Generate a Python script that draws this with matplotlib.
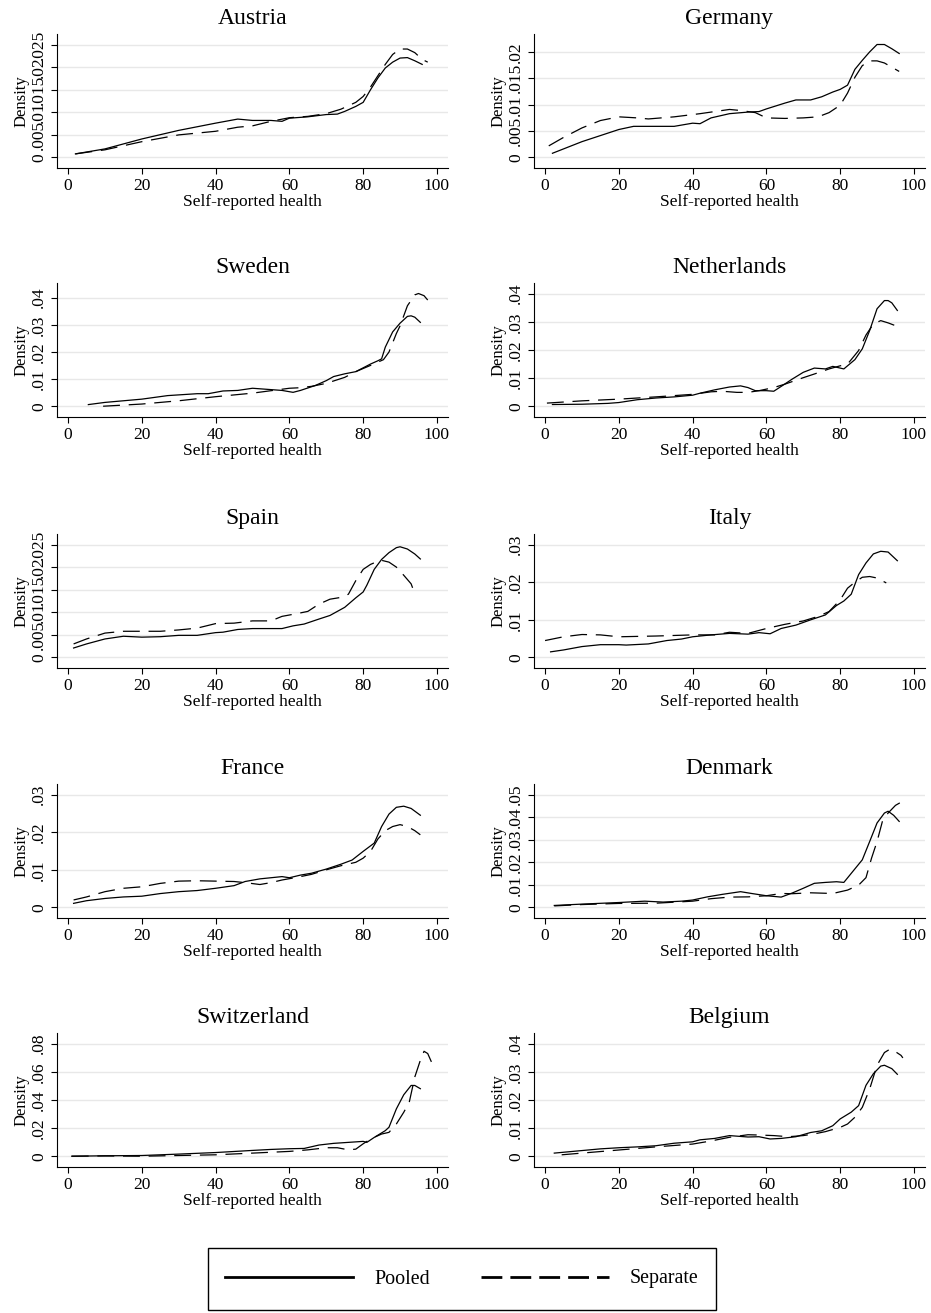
import matplotlib
matplotlib.use('Agg')
import matplotlib.pyplot as plt
from matplotlib.lines import Line2D
from matplotlib.patches import Rectangle

plt.rcParams['font.family'] = ['Liberation Serif', 'DejaVu Serif']

countries = ['Austria', 'Germany', 'Sweden', 'Netherlands', 'Spain',
             'Italy', 'France', 'Denmark', 'Switzerland', 'Belgium']

# kernel density of self-reported health: pooled vs separate estimation
austria_pooled_x = [2, 10, 20, 30, 40, 46, 50, 55, 58, 60, 65, 70, 73, 75, 78, 80, 82, 84, 86, 88, 90, 92, 94, 96]
austria_pooled_y = [.0008, .0019, .0041, .006, .0076, .0085, .0082, .0082, .008, .0087, .009, .0095, .0096, .0102, .0113, .0122, .015, .0176, .0198, .0211, .022, .0221, .0214, .0206]
austria_sep_x = [2, 10, 20, 30, 40, 46, 50, 55, 60, 65, 70, 74, 78, 80, 82, 84, 86, 88, 90, 92, 94, 96, 97.5]
austria_sep_y = [.0008, .0017, .0035, .005, .0058, .0067, .007, .008, .0088, .0091, .0097, .0107, .0122, .0135, .0156, .0181, .0206, .0228, .024, .024, .0232, .0217, .0211]

germany_pooled_x = [2, 10, 20, 24, 30, 35, 40, 42, 45, 50, 55, 58, 60, 65, 68, 72, 75, 78, 80, 82, 84, 86, 88, 90, 92, 94, 96]
germany_pooled_y = [.0008, .003, .0053, .0059, .0059, .0059, .0065, .0064, .0075, .0083, .0086, .0087, .0092, .0103, .0109, .0109, .0115, .0124, .0129, .0137, .0167, .0184, .02, .0214, .0214, .0206, .0197]
germany_sep_x = [1, 5, 10, 15, 20, 25, 28, 35, 42, 50, 53, 57, 60, 65, 70, 74, 77, 80, 82, 84, 86, 88, 90, 92, 94, 96]
germany_sep_y = [.0022, .0038, .0056, .007, .0077, .0075, .0073, .0077, .0083, .0091, .0089, .0085, .0075, .0074, .0075, .0077, .0085, .0099, .0122, .0152, .0174, .0183, .0183, .0179, .0171, .0163]

sweden_pooled_x = [5.5, 10, 20, 27, 35, 38, 42, 46, 50, 55, 58, 61, 63, 67, 70, 72, 75, 78, 80, 82, 84, 85, 86, 88, 90, 92, 93, 94, 95.5]
sweden_pooled_y = [.0007, .0015, .0027, .004, .0047, .0047, .0057, .0059, .0067, .0062, .0059, .0052, .0059, .0077, .0095, .011, .012, .0128, .0142, .0156, .0168, .0175, .0218, .0274, .0306, .0331, .0333, .0328, .0309]
sweden_sep_x = [9.5, 20, 30, 40, 50, 55, 60, 63, 66, 70, 75, 78, 82, 85.5, 87, 89, 90, 92, 94, 95, 96.5, 97.5]
sweden_sep_y = [.0001, .0009, .0021, .0036, .0049, .0058, .0067, .0069, .0074, .0085, .0107, .0128, .0151, .0172, .02, .0268, .0296, .037, .041, .0415, .0407, .0391]

netherlands_pooled_x = [2, 10, 17, 20, 25, 30, 35, 40, 42, 46, 50, 53, 55, 57, 60, 62, 64, 67, 70, 73, 76, 78, 81, 84, 86, 88, 90, 92, 93, 94, 95.5]
netherlands_pooled_y = [.0007, .0008, .0011, .0014, .0024, .003, .0034, .004, .0047, .0059, .0069, .0073, .0067, .0056, .0056, .0054, .0071, .0097, .0121, .0136, .0133, .0142, .0133, .0166, .0204, .0269, .0346, .0375, .0375, .0367, .034]
netherlands_sep_x = [0.5, 10, 20, 30, 40, 45, 48, 52, 55, 58, 62, 65, 70, 73, 77, 80, 82, 85, 87, 89, 91, 93, 95]
netherlands_sep_y = [.0012, .002, .0026, .0034, .0043, .0052, .0054, .005, .005, .0056, .0067, .0079, .0102, .0115, .0133, .0144, .015, .0198, .0253, .0292, .0304, .0296, .0286]

spain_pooled_x = [1.5, 5, 10, 15, 20, 25, 30, 35, 40, 42, 46, 50, 55, 58, 61, 64, 68, 71, 75, 78, 80, 81, 83, 85, 87, 89, 90, 92, 94, 95.5]
spain_pooled_y = [.0021, .003, .0041, .0047, .0045, .0046, .0049, .0049, .0055, .0056, .0062, .0064, .0064, .0064, .007, .0074, .0085, .0093, .0111, .0132, .0145, .016, .0195, .0217, .0232, .0243, .0245, .024, .0229, .0218]
spain_sep_x = [1.5, 5, 10, 15, 20, 25, 30, 35, 40, 45, 50, 55, 58, 62, 65, 68, 71, 74, 76, 78, 80, 82, 84, 85, 87, 89, 91, 93, 93.5]
spain_sep_y = [.003, .0041, .0054, .0058, .0058, .0058, .0061, .0065, .0075, .0076, .0081, .0081, .0091, .0097, .0102, .0118, .0129, .0133, .014, .017, .0195, .0206, .0213, .0215, .0211, .02, .0182, .0163, .0152]

italy_pooled_x = [1.5, 5, 10, 15, 20, 22, 28, 33, 37, 40, 45, 50, 55, 58, 61, 64, 68, 72, 76, 79, 81, 83, 85, 87, 89, 91, 93, 95.5]
italy_pooled_y = [.0015, .002, .0029, .0034, .0034, .0033, .0036, .0045, .0049, .0055, .006, .0064, .0062, .0066, .0063, .0077, .0086, .01, .0113, .0138, .015, .0168, .022, .0251, .0275, .0282, .028, .0257]
italy_sep_x = [0, 5, 10, 15, 20, 30, 40, 46, 50, 55, 60, 65, 70, 74, 77, 80, 82, 84, 86, 88, 90, 92.5]
italy_sep_y = [.0045, .0055, .0061, .006, .0055, .0057, .006, .006, .0067, .0064, .0077, .0088, .0097, .0109, .0122, .0153, .0184, .02, .0213, .0215, .0211, .0198]

france_pooled_x = [1.5, 5, 10, 15, 20, 25, 30, 35, 40, 45, 48, 52, 55, 58, 60, 63, 66, 70, 74, 77, 80, 83, 85, 87, 89, 91, 93, 95.5]
france_pooled_y = [.0011, .0018, .0024, .0028, .003, .0037, .0042, .0045, .0051, .0058, .0069, .0076, .0079, .0082, .0079, .0086, .0091, .0102, .0115, .0126, .0149, .0171, .0215, .0248, .0266, .0269, .0263, .0245]
france_sep_x = [1.5, 5, 10, 15, 20, 25, 30, 35, 40, 45, 48, 52, 55, 58, 62, 66, 70, 74, 78, 80, 82, 84, 86, 88, 90, 92, 94, 95.5]
france_sep_y = [.002, .0028, .0042, .0051, .0055, .0064, .007, .0071, .007, .0069, .0066, .0061, .0066, .0073, .008, .0088, .01, .0111, .012, .0131, .0149, .0182, .0204, .0215, .022, .0215, .0204, .0193]

denmark_pooled_x = [2.5, 10, 20, 27, 32, 37, 40, 44, 48, 53, 56, 60, 64, 67, 70, 73, 76, 79, 81, 83, 86, 88, 90, 92, 93, 94.5, 96]
denmark_pooled_y = [.0009, .0015, .0022, .0028, .0024, .0028, .0033, .0047, .0058, .007, .0062, .0052, .0046, .0064, .0085, .0107, .0111, .0114, .0111, .0151, .0211, .0292, .0374, .0418, .0426, .0408, .0381]
denmark_sep_x = [2.5, 10, 20, 30, 40, 45, 50, 55, 60, 64, 67, 72, 78, 82, 85, 87, 88.5, 90, 91.5, 93, 95, 96.5, 98]
denmark_sep_y = [.0007, .0013, .0018, .0019, .0028, .0039, .0046, .0047, .0052, .0062, .0061, .0065, .0062, .0077, .0099, .0132, .0218, .0292, .0384, .0418, .0452, .0466, .0458]

switzerland_pooled_x = [1, 10, 20, 30, 40, 50, 55, 60, 64, 68, 72, 76, 80, 81, 83, 86, 87, 89, 91, 93, 94, 95.5]
switzerland_pooled_y = [.0002, .0005, .0007, .0017, .0028, .0043, .005, .0055, .0057, .0081, .0093, .01, .0107, .01, .0135, .0183, .0207, .0337, .0437, .0503, .0503, .048]
switzerland_sep_x = [1, 10, 20, 30, 40, 50, 60, 65, 70, 73, 76, 78, 80, 82, 85, 87, 89, 91, 92.5, 94, 95.5, 96.5, 97.5, 98.5]
switzerland_sep_y = [.0002, .0004, .0002, .0007, .0012, .0024, .0036, .0047, .0062, .0062, .0047, .0052, .009, .0124, .0159, .0171, .023, .0313, .0385, .0563, .0681, .0745, .0729, .067]

belgium_pooled_x = [2.5, 10, 15, 20, 25, 30, 35, 40, 42, 46, 50, 55, 58, 61, 64, 68, 72, 75, 78, 80, 83, 85, 87, 89, 91, 92, 94, 95.5]
belgium_pooled_y = [.0012, .0021, .0027, .0031, .0034, .0038, .0047, .0052, .0059, .0064, .0074, .0069, .007, .0062, .0064, .007, .0085, .0091, .0109, .0133, .0157, .018, .0252, .0293, .032, .0323, .0311, .0291]
belgium_sep_x = [4.5, 10, 20, 30, 40, 45, 50, 55, 58, 62, 66, 70, 73, 76, 80, 82, 84, 86, 88, 90, 92, 93.5, 95, 96.5, 97]
belgium_sep_y = [.0006, .0012, .0023, .0034, .0044, .0055, .0068, .0077, .0076, .0074, .007, .0074, .008, .0088, .0103, .0115, .0139, .0174, .0239, .0323, .0368, .038, .0371, .0358, .0349]

yticks = {
    'Austria': [0, .005, .01, .015, .02, .025],
    'Germany': [0, .005, .01, .015, .02],
    'Sweden': [0, .01, .02, .03, .04],
    'Netherlands': [0, .01, .02, .03, .04],
    'Spain': [0, .005, .01, .015, .02, .025],
    'Italy': [0, .01, .02, .03],
    'France': [0, .01, .02, .03],
    'Denmark': [0, .01, .02, .03, .04, .05],
    'Switzerland': [0, .02, .04, .06, .08],
    'Belgium': [0, .01, .02, .03, .04],
}

curves = {
    'Austria': (austria_pooled_x, austria_pooled_y, austria_sep_x, austria_sep_y),
    'Germany': (germany_pooled_x, germany_pooled_y, germany_sep_x, germany_sep_y),
    'Sweden': (sweden_pooled_x, sweden_pooled_y, sweden_sep_x, sweden_sep_y),
    'Netherlands': (netherlands_pooled_x, netherlands_pooled_y, netherlands_sep_x, netherlands_sep_y),
    'Spain': (spain_pooled_x, spain_pooled_y, spain_sep_x, spain_sep_y),
    'Italy': (italy_pooled_x, italy_pooled_y, italy_sep_x, italy_sep_y),
    'France': (france_pooled_x, france_pooled_y, france_sep_x, france_sep_y),
    'Denmark': (denmark_pooled_x, denmark_pooled_y, denmark_sep_x, denmark_sep_y),
    'Switzerland': (switzerland_pooled_x, switzerland_pooled_y, switzerland_sep_x, switzerland_sep_y),
    'Belgium': (belgium_pooled_x, belgium_pooled_y, belgium_sep_x, belgium_sep_y),
}


def stata_fmt(v):
    return '0' if v == 0 else ('%g' % v).lstrip('0')


W, H = 931, 1313
fig = plt.figure(figsize=(W / 100, H / 100), dpi=100)

col_left = [57, 534]
row_top = [34, 283, 534, 784, 1033]
ax_w, ax_h = 391, 134
sep_dash = (13.5, 7)

for i, name in enumerate(countries):
    r, c = divmod(i, 2)
    ax = fig.add_axes([col_left[c] / W, 1 - (row_top[r] + ax_h) / H, ax_w / W, ax_h / H])
    px, py, sx, sy = curves[name]
    ax.plot(px, py, color='black', lw=0.9)
    ax.plot(sx, sy, color='black', lw=0.9, dashes=sep_dash)

    ticks = yticks[name]
    hi = max(ticks[-1], max(py), max(sy))
    pad = hi * 0.093
    ax.set_ylim(-pad, hi + pad)
    ax.set_xlim(-3, 103)
    ax.set_xticks([0, 20, 40, 60, 80, 100])
    ax.set_yticks(ticks)
    ax.set_yticklabels([stata_fmt(t) for t in ticks], rotation=90, va='center')
    ax.tick_params(labelsize=12.5, length=4.5, width=0.8, pad=2.5)

    ax.yaxis.grid(True, color='#e8e8e8', lw=1.0)
    ax.set_axisbelow(True)
    for side in ['top', 'right']:
        ax.spines[side].set_visible(False)
    for side in ['left', 'bottom']:
        ax.spines[side].set_linewidth(0.8)

    ax.set_title(name, fontsize=17, pad=7)
    ax.set_xlabel('Self-reported health', fontsize=12.5, labelpad=0.5)
    ax.set_ylabel('Density', fontsize=12, labelpad=1)

# legend in a plain box at the bottom
box_l, box_t, box_r, box_b = 208, 1248, 716, 1310
fig.add_artist(Rectangle((box_l / W, 1 - box_b / H), (box_r - box_l) / W, (box_b - box_t) / H,
                         transform=fig.transFigure, fill=False, ec='black', lw=1.0))
handles = [Line2D([], [], color='black', lw=2),
           Line2D([], [], color='black', lw=2, dashes=(7.5, 2.9))]
fig.legend(handles, ['Pooled', 'Separate'], ncol=2, loc='center',
           bbox_to_anchor=((box_l + box_r) / 2 / W, 1 - (box_t + box_b) / 2 / H),
           frameon=False, fontsize=14.4, handlelength=6.4, handletextpad=1.05,
           columnspacing=2.55)

fig.savefig('out.png', dpi=100)
